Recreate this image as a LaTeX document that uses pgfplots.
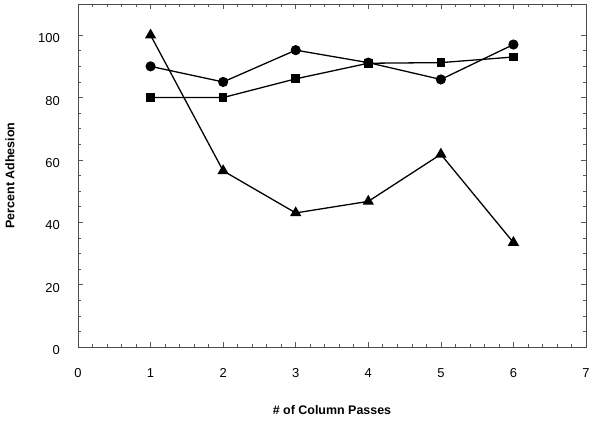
\documentclass[border=0pt]{standalone}
\usepackage{pgfplots}
\pgfplotsset{compat=1.18}
\usepackage{fontspec}
\setmainfont{Liberation Sans}
\begin{document}
\begin{tikzpicture}
\begin{axis}[
  at={(0,0)}, anchor=south west,
  scale only axis, width=508bp, height=343bp,
  xmin=0, xmax=7, ymin=0, ymax=110,
  xtick={0,1,2,3,4,5,6,7},
  ytick={0,20,40,60,80,100},
  minor x tick num=4,
  minor y tick num=3,
  tick align=inside,
  major tick length=5bp, minor tick length=3bp,
  tick style={line width=0.6pt, color=black!65},
  axis line style={line width=0.8pt, color=black!70},
  xticklabels={0,1,2,3,4,5,6,7},
  yticklabels={0,20,40,60,80,100},
  x tick label style={anchor=center, yshift=-26bp, font=\fontsize{13}{15}\selectfont},
  y tick label style={anchor=east, inner sep=0pt, xshift=-18bp, yshift=-3bp, font=\fontsize{13}{15}\selectfont},
  xlabel={\textbf{\# of Column Passes}},
  ylabel={\textbf{Percent Adhesion}},
  x label style={at={(axis description cs:0.5,-0.1837)}, anchor=center, font=\fontsize{12.5}{14}\selectfont},
  y label style={at={(axis description cs:-0.1339,0.5)}, anchor=center, rotate=0, font=\fontsize{12.5}{14}\selectfont},
]
\addplot[black, line width=1.3pt, mark=square*, mark size=3.7bp] coordinates {
  (1,80) (2,80) (3,86) (4,91) (5,91.2) (6,93)
};
\addplot[black, line width=1.3pt, mark=triangle*, mark size=5.3bp] coordinates {
  (1,100) (2,56.5) (3,43) (4,46.7) (5,61.8) (6,33.5)
};
\addplot[black, line width=1.3pt, mark=*, mark size=4.4bp] coordinates {
  (1,90) (2,85) (3,95.2) (4,91.2) (5,85.8) (6,97)
};
\end{axis}
\pgfresetboundingbox
\path[use as bounding box] (-78bp,-75bp) rectangle (524bp,347bp);
\end{tikzpicture}
\end{document}
